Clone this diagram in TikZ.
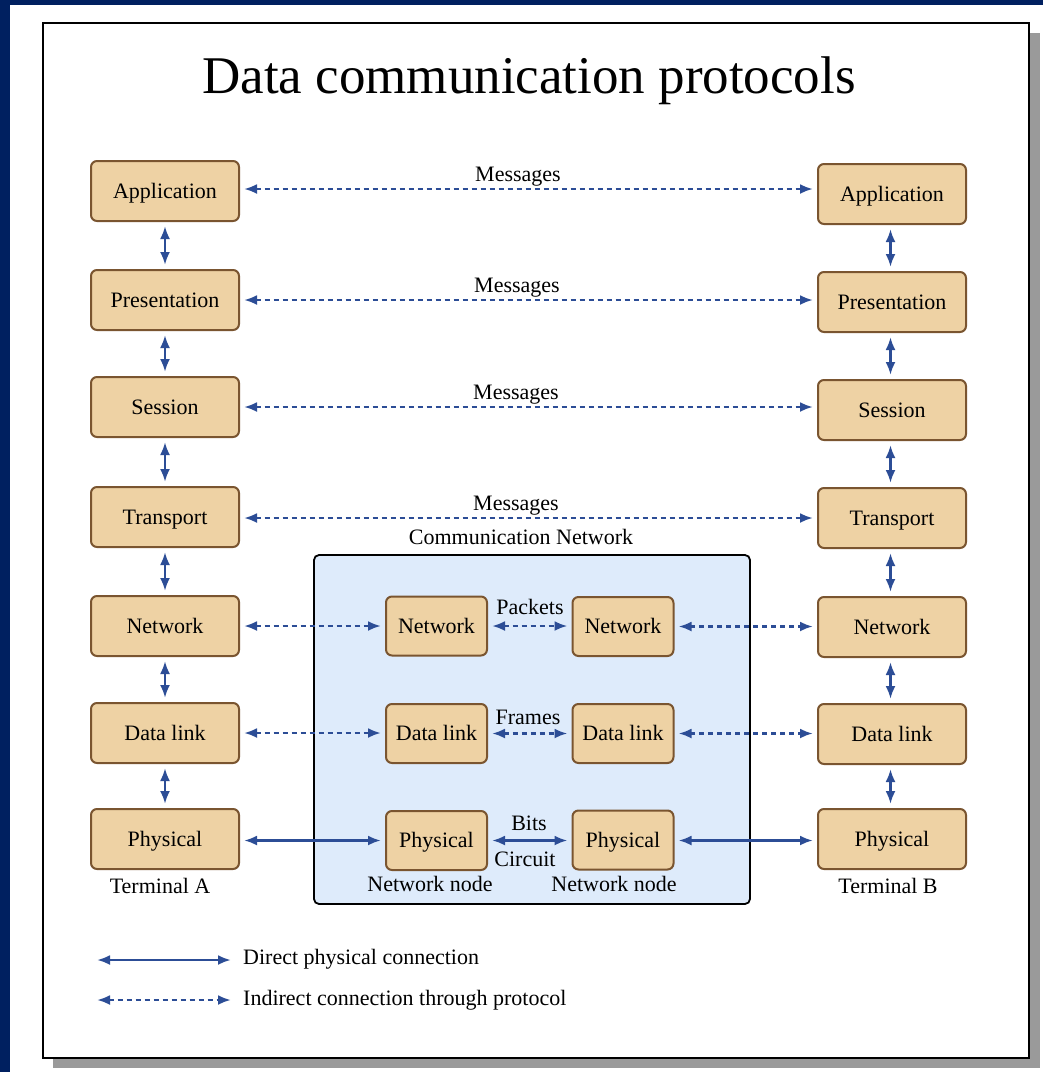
\documentclass[tikz,border=0pt]{standalone}
\usepackage{fontspec}
\setmainfont{Liberation Serif}
\newfontfamily\boxfont{Liberation Serif}
\usetikzlibrary{arrows.meta,calc}
\definecolor{navy}{HTML}{002060}
\definecolor{shadowgray}{HTML}{9A9A9A}
\definecolor{boxfill}{HTML}{EED2A4}
\definecolor{boxedge}{HTML}{7A5530}
\definecolor{linkblue}{HTML}{2C4D96}
\definecolor{netfill}{HTML}{DEEBFB}
\begin{document}
\begin{tikzpicture}[x=1pt,y=-1pt,
  stackbox/.style={draw=boxedge, fill=boxfill, line width=2pt, rounded corners=6pt,
    minimum width=148pt, minimum height=60pt, inner sep=0pt,
    text height=19pt, text depth=5pt,
    font=\boxfont\fontsize{22}{26}\selectfont},
  relay/.style={stackbox, minimum width=101pt, minimum height=59pt},
  lbl/.style={font=\rmfamily\fontsize{22}{26}\selectfont, inner sep=0pt, anchor=base},
  link/.style={draw=linkblue, line width=2.8pt,
    {Latex[length=13pt,width=10pt]}-{Latex[length=13pt,width=10pt]}},
  gap/.style={shorten <=4pt, shorten >=4pt},
  proto/.style={link, dash pattern=on 5pt off 4pt}]

% page, frame and shadow
\useasboundingbox (0,0) rectangle (1043,1072);
\fill[white] (0,0) rectangle (1043,1072);
\fill[navy] (0,0) rectangle (1043,5);
\fill[navy] (0,0) rectangle (10,1072);
\fill[shadowgray] (53,33) rectangle (1040,1068);
\draw[fill=white, line width=2.4pt] (43,23) rectangle (1029,1058);

\node[lbl, font=\rmfamily\fontsize{53}{60}\selectfont] (title) at (529,93) {Data communication protocols};

% communication network area
\draw[fill=netfill, line width=1.8pt, rounded corners=5pt] (314,555) rectangle (750,904);
\node[lbl] (netlabel) at (521,544) {Communication Network};

% terminal A stack
\node[stackbox] (L1) at (165,191) {Application};
\node[stackbox] (L2) at (165,300) {Presentation};
\node[stackbox] (L3) at (165,407) {Session};
\node[stackbox] (L4) at (165,517) {Transport};
\node[stackbox] (L5) at (165,626) {Network};
\node[stackbox] (L6) at (165,733) {Data link};
\node[stackbox] (L7) at (165,839) {Physical};

% terminal B stack
\node[stackbox] (R1) at (892,194) {Application};
\node[stackbox] (R2) at (892,302) {Presentation};
\node[stackbox] (R3) at (892,410) {Session};
\node[stackbox] (R4) at (892,518) {Transport};
\node[stackbox] (R5) at (892,627) {Network};
\node[stackbox] (R6) at (892,734) {Data link};
\node[stackbox] (R7) at (892,839) {Physical};

% network nodes
\node[relay] (NA) at (436.5,626) {Network};
\node[relay] (NB) at (623,626.5) {Network};
\node[relay] (DA) at (436.5,733.5) {Data link};
\node[relay] (DB) at (623,733.5) {Data link};
\node[relay] (PA) at (436.5,840.5) {Physical};
\node[relay] (PB) at (623,840) {Physical};

% vertical links within each stack
\foreach \a/\b in {1/2,2/3,3/4,4/5,5/6,6/7}{
  \draw[link, gap] (L\a.south) -- (L\b.north);
  \draw[link, gap] ($(R\a.south)+(-1.5,0)$) -- ($(R\b.north)+(-1.5,0)$);
}

% peer protocol links
\foreach \r/\dy in {1/-2,2/0,3/0,4/1}{
  \draw[proto, gap] ($(L\r.east)+(0,\dy)$) -- ($(L\r.east -| R\r.west)+(0,\dy)$);
}
\draw[proto, gap] (L5.east) -- (L5.east -| NA.west);
\draw[proto, gap] (NA.east) -- (NA.east -| NB.west);
\draw[proto, gap] (NB.east) -- (NB.east -| R5.west);
\draw[proto, gap] (L6.east) -- (L6.east -| DA.west);
\draw[proto, gap] (DA.east) -- (DA.east -| DB.west);
\draw[proto, gap] (DB.east) -- (DB.east -| R6.west);
\draw[link, gap] ($(L7.east)+(0,1.5)$) -- ($(L7.east -| PA.west)+(0,1.5)$);
\draw[link, gap] (PA.east) -- (PA.east -| PB.west);
\draw[link, gap] ($(PB.east)+(0,0.5)$) -- ($(PB.east -| R7.west)+(0,0.5)$);

% link labels
\node[lbl] (m1) at (518,181) {Messages};
\node[lbl] (m2) at (517,292) {Messages};
\node[lbl] (m3) at (516,399) {Messages};
\node[lbl] (m4) at (516,510) {Messages};
\node[lbl] (pk) at (530,614) {Packets};
\node[lbl] (fr) at (528,724) {Frames};
\node[lbl] (bt) at (529,830) {Bits};
\node[lbl] (ci) at (525,866) {Circuit};
\node[lbl] (nn1) at (430,891) {Network node};
\node[lbl] (nn2) at (614,891) {Network node};
\node[lbl] (ta) at (160,893) {Terminal A};
\node[lbl] (tb) at (888,893) {Terminal B};

% legend
\coordinate (ls1) at (97,960);
\coordinate (le1) at (231,960);
\coordinate (ls2) at (97,1000);
\coordinate (le2) at (231,1000);
\draw[link] (ls1) -- (le1);
\draw[proto] (ls2) -- (le2);
\node[lbl, anchor=base west] (lg1) at (243,964) {Direct physical connection};
\node[lbl, anchor=base west] (lg2) at (243,1005) {Indirect connection through protocol};
\end{tikzpicture}
\end{document}
